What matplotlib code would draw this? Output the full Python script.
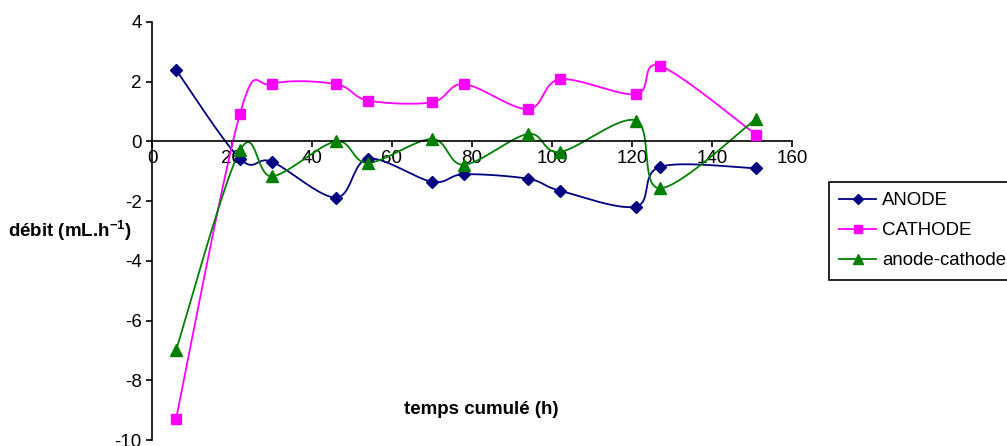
import numpy as np
import matplotlib
matplotlib.use("Agg")
import matplotlib.pyplot as plt

plt.rcParams['font.family'] = ['Liberation Sans', 'DejaVu Sans']
plt.rcParams['mathtext.fontset'] = 'custom'
plt.rcParams['mathtext.rm'] = 'Liberation Sans'
plt.rcParams['mathtext.bf'] = 'Liberation Sans:bold'
plt.rcParams['axes.unicode_minus'] = False

# Data
temps = [6, 22, 30, 46, 54, 70, 78, 94, 102, 121, 127, 151]
anode = [2.4, -0.58, -0.68, -1.88, -0.58, -1.35, -1.1, -1.25, -1.65, -2.18, -0.85, -0.9]
cathode = [-9.3, 0.93, 1.92, 1.92, 1.37, 1.31, 1.92, 1.08, 2.08, 1.58, 2.53, 0.23]
anode_cathode = [-7.0, -0.3, -1.17, 0.0, -0.72, 0.08, -0.78, 0.25, -0.35, 0.7, -1.57, 0.75]
series_names = ["ANODE", "CATHODE", "anode-cathode"]
xticks = [0, 20, 40, 60, 80, 100, 120, 140, 160]
yticks = [-10, -8, -6, -4, -2, 0, 2, 4]

W, H = 1007, 446
fig = plt.figure(figsize=(W / 100, H / 100), dpi=100)
ax = fig.add_axes([152 / W, 6 / H, 640 / W, 418 / H])
ax.set_xlim(0, 160)
ax.set_ylim(-10, 4)

sx, sy = 640 / 160, 418 / 14


def smooth(x, y, n=40):
    P = np.column_stack([np.asarray(x, float) * sx, np.asarray(y, float) * sy])
    P = np.vstack([P[0], P, P[-1]])
    out = []
    t = np.linspace(0, 1, n)[:, None]
    for i in range(1, len(P) - 2):
        p0, p1, p2, p3 = P[i - 1], P[i], P[i + 1], P[i + 2]
        c1 = p1 + (p2 - p0) / 6
        c2 = p2 - (p3 - p1) / 6
        seg = (1 - t) ** 3 * p1 + 3 * (1 - t) ** 2 * t * c1 + 3 * (1 - t) * t ** 2 * c2 + t ** 3 * p2
        out.append(seg if i == 1 else seg[1:])
    out = np.vstack(out)
    return out[:, 0] / sx, out[:, 1] / sy


styles = [
    (anode, '#000080', 'D', 6.5),
    (cathode, '#FF00FF', 's', 7),
    (anode_cathode, '#008000', '^', 8),
]
handles = []
for (vals, col, mk, ms), name in zip(styles, series_names):
    xs, ys = smooth(temps, vals)
    ax.plot(xs, ys, color=col, lw=1.3, zorder=2)
    ax.plot(temps, vals, linestyle='none', marker=mk, ms=ms, color=col, zorder=3)
    h, = ax.plot([], [], color=col, lw=1.3, marker=mk, ms=ms * 0.85, label=name)
    handles.append(h)

for s in ['top', 'right']:
    ax.spines[s].set_visible(False)
ax.spines['bottom'].set_position(('data', 0))
ax.spines['left'].set_position(('data', 0))
for s in ['bottom', 'left']:
    ax.spines[s].set_linewidth(1.2)
ax.set_xticks(xticks)
ax.set_yticks(yticks)
ax.tick_params(axis='both', direction='out', length=4.5, width=1.2, labelsize=13.5)
ax.tick_params(axis='x', pad=2)
ax.tick_params(axis='y', pad=3)

fig.text(0.008, 1 - 231 / H, r'débit (mL.h$^{\mathbf{-1}}$)', ha='left', va='center',
         fontsize=13.5, fontweight='bold')
fig.text(481 / W, 1 - 410 / H, 'temps cumulé (h)', ha='center', va='center',
         fontsize=13.5, fontweight='bold')

leg = fig.legend(handles=handles, loc='upper left', bbox_to_anchor=(829 / W, 1 - 182 / H),
                 bbox_transform=fig.transFigure, borderaxespad=0, fancybox=False,
                 edgecolor='black', framealpha=1, fontsize=13.4, handlelength=2.0,
                 handletextpad=0.3, labelspacing=0.7, borderpad=0.55)
leg.get_frame().set_linewidth(1.2)

fig.savefig('out.png', dpi=100)
